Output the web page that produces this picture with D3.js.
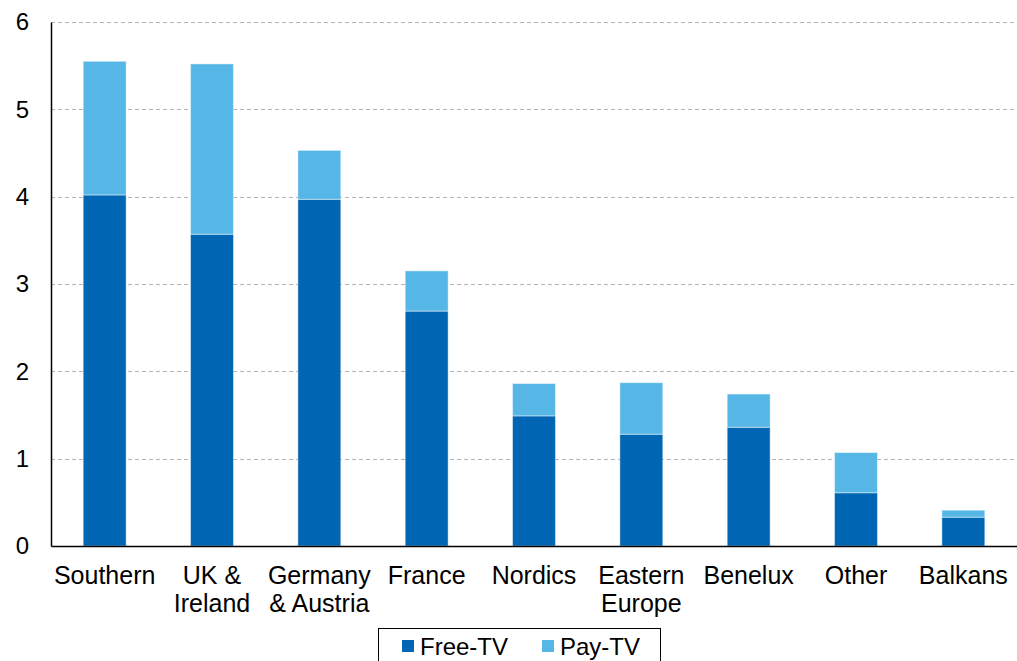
<!DOCTYPE html>
<html>
<head>
<meta charset="utf-8">
<script src="https://d3js.org/d3.v7.min.js"></script>
<style>
  html, body { margin: 0; padding: 0; background: #fff; }
  svg { display: block; font-family: "Liberation Sans", Arial, sans-serif; }
</style>
</head>
<body>
<svg id="chart" width="1017" height="661"></svg>
<script>
// Regions (two-line labels split with "\n")
const categories = ["Southern", "UK &\nIreland", "Germany\n& Austria", "France", "Nordics", "Eastern\nEurope", "Benelux", "Other", "Balkans"];
const freeTV = [4.02, 3.57, 3.97, 2.69, 1.49, 1.28, 1.36, 0.61, 0.33];
const payTV  = [1.53, 1.95, 0.56, 0.46, 0.37, 0.59, 0.38, 0.46, 0.08];
const yTicks = [0, 1, 2, 3, 4, 5, 6];
const seriesNames = ["Free-TV", "Pay-TV"];
const colors = ["#0066b3", "#56b7e6"];

const svg = d3.select("#chart");
const margin = { left: 51, right: 0, top: 22, bottom: 115 };
const W = 1017, H = 661;

const x = d3.scaleBand()
  .domain(categories)
  .range([margin.left, W - margin.right])
  .paddingInner(0.6)
  .paddingOuter(0.3);

const y = d3.scaleLinear()
  .domain([0, 6])
  .range([H - margin.bottom, margin.top]);

// Dashed horizontal gridlines
svg.append("g")
  .selectAll("line")
  .data(yTicks.filter(d => d > 0))
  .join("line")
  .attr("x1", margin.left)
  .attr("x2", W)
  .attr("y1", d => Math.round(y(d)) + 0.5)
  .attr("y2", d => Math.round(y(d)) + 0.5)
  .attr("stroke", "#b4b4b4")
  .attr("stroke-width", 1)
  .attr("stroke-dasharray", "4,3");

// Stacked bars
const rows = categories.map((c, i) => ({ cat: c, "Free-TV": freeTV[i], "Pay-TV": payTV[i] }));
const stacked = d3.stack().keys(seriesNames)(rows);

svg.append("g")
  .selectAll("g")
  .data(stacked)
  .join("g")
  .attr("fill", (d, i) => colors[i])
  .selectAll("rect")
  .data(d => d)
  .join("rect")
  .attr("x", d => x(d.data.cat))
  .attr("width", x.bandwidth())
  .attr("y", d => y(d[1]))
  .attr("height", d => y(d[0]) - y(d[1]))
  .attr("stroke", "rgba(255,255,255,0.45)")
  .attr("stroke-width", 1);

// Y axis
const yAxis = svg.append("g")
  .attr("transform", `translate(${margin.left},0)`)
  .call(d3.axisLeft(y).tickValues(yTicks).tickSize(0).tickPadding(22).tickFormat(d3.format("d")));
yAxis.select(".domain").attr("stroke", "#000").attr("stroke-width", 1.5);
yAxis.selectAll("text").attr("font-size", 24).attr("fill", "#000")
  .attr("font-family", "Liberation Sans, Arial, sans-serif");

// X axis
const xAxis = svg.append("g")
  .attr("transform", `translate(0,${y(0)})`)
  .call(d3.axisBottom(x).tickSize(0).tickFormat(""));
xAxis.select(".domain").attr("stroke", "#000").attr("stroke-width", 1.5);

// Category labels, wrapped onto two lines where needed
svg.append("g")
  .selectAll("text")
  .data(categories)
  .join("text")
  .attr("x", d => x(d) + x.bandwidth() / 2)
  .attr("y", y(0) + 38)
  .attr("text-anchor", "middle")
  .attr("font-size", 25)
  .attr("fill", "#000")
  .each(function (d) {
    const t = d3.select(this);
    d.split("\n").forEach((line, i) => {
      t.append("tspan")
        .attr("x", x(d) + x.bandwidth() / 2)
        .attr("dy", i === 0 ? 0 : 28)
        .text(line);
    });
  });

// Legend box
const legend = svg.append("g");
legend.append("rect")
  .attr("x", 378.5).attr("y", 628.5)
  .attr("width", 282).attr("height", 40)
  .attr("fill", "#fff").attr("stroke", "#000").attr("stroke-width", 1);
const legendX = [402, 542];
seriesNames.forEach((name, i) => {
  legend.append("rect")
    .attr("x", legendX[i]).attr("y", 640)
    .attr("width", 12).attr("height", 12)
    .attr("fill", colors[i]);
  legend.append("text")
    .attr("x", legendX[i] + 18).attr("y", 655)
    .attr("font-size", 24).attr("fill", "#000")
    .text(name);
});
</script>
</body>
</html>
